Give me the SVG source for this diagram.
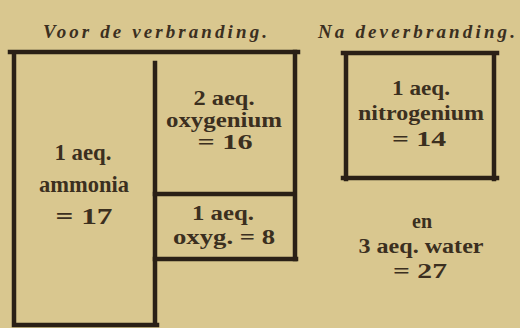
<svg xmlns="http://www.w3.org/2000/svg" width="520" height="328" viewBox="0 0 520 328">
<style>
.ln{fill:none;stroke:#2a2016;stroke-width:4.5;stroke-linecap:square}
.tt{font-family:"Liberation Serif","DejaVu Serif",serif;font-style:italic;font-weight:bold;font-size:19px;fill:#3b2f1f}
.t{font-family:"Liberation Serif","DejaVu Serif",serif;font-weight:bold;fill:#3b2f1f;text-anchor:middle}
.l{font-size:23px}
.s{font-size:20px}
</style>
<rect width="520" height="328" fill="#d9c78f"/>
<g id="titles">
<text class="tt" x="43" y="38" textLength="224" lengthAdjust="spacing">Voor de verbranding.</text>
<text class="tt" x="318" y="38" textLength="197" lengthAdjust="spacing">Na deverbranding.</text>
</g>
<g id="ammonia">
<path class="ln" d="M10 52H298M14 52V325M14 325H157M155 63V325"/>
<text class="t l" x="83" y="160" textLength="57" lengthAdjust="spacingAndGlyphs">1 aeq.</text>
<text class="t l" x="84" y="192" textLength="90" lengthAdjust="spacingAndGlyphs">ammonia</text>
<text class="t l" x="84" y="224" textLength="57" lengthAdjust="spacingAndGlyphs">= 17</text>
</g>
<g id="oxygenium">
<path class="ln" d="M295 52V259M155 194H295"/>
<text class="t s" x="224" y="105" textLength="61" lengthAdjust="spacingAndGlyphs">2 aeq.</text>
<text class="t s" x="224" y="127" textLength="116" lengthAdjust="spacingAndGlyphs">oxygenium</text>
<text class="t s" x="225" y="149" textLength="55" lengthAdjust="spacingAndGlyphs">= 16</text>
</g>
<g id="oxyg">
<path class="ln" d="M155 259H296"/>
<text class="t s" x="223" y="220" textLength="62" lengthAdjust="spacingAndGlyphs">1 aeq.</text>
<text class="t s" x="224" y="244" textLength="102" lengthAdjust="spacingAndGlyphs">oxyg. = 8</text>
</g>
<g id="nitrogenium">
<path class="ln" d="M343 53H497M346 53V179M494 53V179M343 178H497"/>
<text class="t s" x="421" y="95" textLength="58" lengthAdjust="spacingAndGlyphs">1 aeq.</text>
<text class="t s" x="421" y="120" textLength="126" lengthAdjust="spacingAndGlyphs">nitrogenium</text>
<text class="t s" x="419" y="146" textLength="54" lengthAdjust="spacingAndGlyphs">= 14</text>
</g>
<g id="water">
<text class="t s" x="422" y="228">en</text>
<text class="t s" x="421" y="253" textLength="125" lengthAdjust="spacingAndGlyphs">3 aeq. water</text>
<text class="t s" x="420" y="278" textLength="54" lengthAdjust="spacingAndGlyphs">= 27</text>
</g>
<g id="connectors"/>
</svg>
